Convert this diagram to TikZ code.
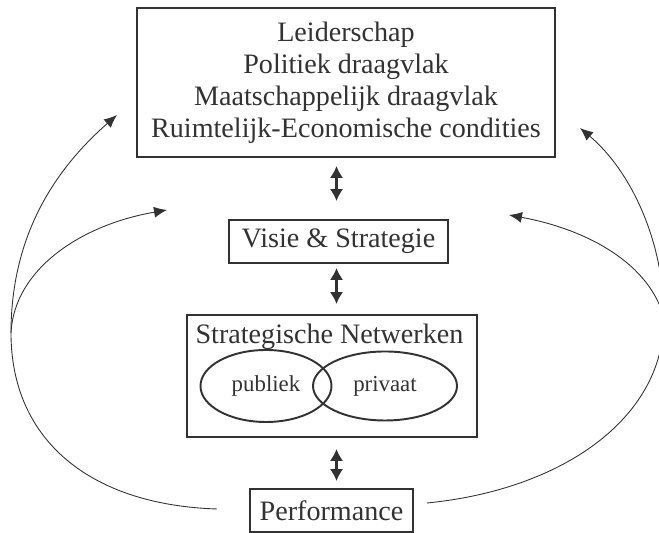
\documentclass[tikz,border=0pt]{standalone}
\usepackage{fontspec}
\setmainfont{Liberation Serif}
\usetikzlibrary{arrows.meta,shapes.geometric}
\definecolor{ink}{RGB}{50,50,50}

\begin{document}
\begin{tikzpicture}[>={Latex[length=2.6mm,width=2.2mm]},
    box/.style={draw=ink, line width=1.1pt, text=ink, inner sep=0pt, font=\fontsize{16}{18.2}\selectfont},
    set/.style={ellipse, draw=ink, line width=1.1pt, text=ink, inner sep=0pt, font=\fontsize{13}{15}\selectfont},
    twoway/.style={{Latex[length=2.4mm,width=2.7mm]}-{Latex[length=2.4mm,width=2.7mm]}, draw=ink, line width=1.7pt},
    terug/.style={->, draw=ink, line width=0.5pt}]
    \useasboundingbox (0,0) rectangle (13.18,10.66);
    \clip (0,0) rectangle (13.18,10.66);
    % blokken
    \node[box, align=center, minimum width=8.36cm, minimum height=2.98cm] (cond) at (6.92,9.01)
        {Leiderschap\\Politiek draagvlak\\Maatschappelijk draagvlak\\Ruimtelijk-Economische condities};
    \node[box, minimum width=4.38cm, minimum height=0.86cm] (visie) at (6.77,5.83) {Visie \& Strategie};
    \node[box, minimum width=5.80cm, minimum height=2.44cm] (netw) at (6.64,3.14) {};
    \node[text=ink, inner sep=0pt, font=\fontsize{16}{18.2}\selectfont] (netwtitel) at (6.59,3.92) {Strategische Netwerken};
    \node[set, minimum width=2.62cm, minimum height=1.44cm] (publiek) at (5.32,2.94) {publiek};
    \node[set, minimum width=2.88cm, minimum height=1.38cm] (privaat) at (7.70,2.94) {privaat};
    \node[box, minimum width=3.26cm, minimum height=0.86cm] (perf) at (6.63,0.45) {Performance};
    % verticale pijlen
    \coordinate (as) at (6.73,0);
    \draw[twoway, shorten <=1.6mm, shorten >=3.6mm] (cond.south -| as) -- (visie.north -| as);
    \draw[twoway, shorten <=0.8mm, shorten >=2.0mm] (visie.south -| as) -- (netw.north -| as);
    \draw[twoway, shorten <=2.2mm, shorten >=1.4mm] (netw.south -| as) -- (perf.north -| as);
    % terugkoppeling links
    \coordinate (ls) at (4.34,0.48);
    \coordinate (lj) at (0.22,4.00);
    \coordinate (lt1) at (2.34,8.36);
    \coordinate (lt2) at (3.34,6.46);
    \draw[terug] (ls) .. controls (1.80,0.56) and (0.22,1.86) .. (lj) .. controls (0.22,6.06) and (1.20,7.36) .. (lt1);
    \draw[terug] (lj) .. controls (0.28,5.26) and (1.60,6.16) .. (lt2);
    % terugkoppeling rechts
    \coordinate (rs) at (8.54,0.60);
    \coordinate (rj) at (13.28,4.30);
    \coordinate (rt1) at (11.60,8.10);
    \coordinate (rt2) at (10.18,6.36);
    \draw[terug] (rs) .. controls (11.20,0.86) and (13.28,2.26) .. (rj) .. controls (13.28,5.86) and (12.60,7.26) .. (rt1);
    \draw[terug] (rj) .. controls (13.00,5.36) and (11.80,6.06) .. (rt2);
\end{tikzpicture}
\end{document}
